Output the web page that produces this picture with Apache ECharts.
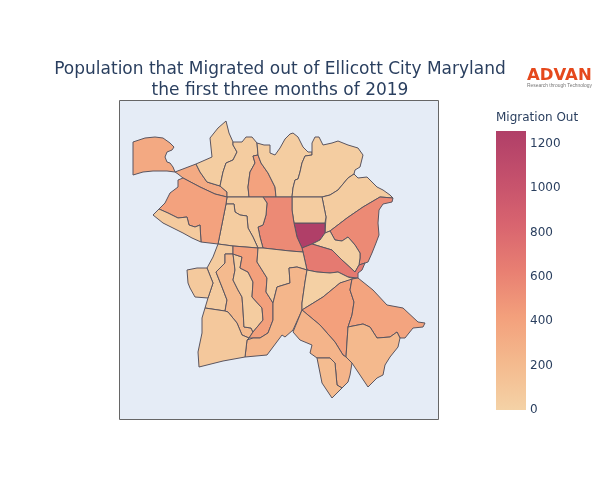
<!DOCTYPE html>
<html>
<head>
<meta charset="utf-8">
<style>
html, body { margin: 0; padding: 0; background: #fff; }
#chart { width: 600px; height: 500px; }
</style>
<script src="https://cdn.jsdelivr.net/npm/echarts@6/dist/echarts.min.js"></script>
</head>
<body>
<div id="chart"></div>
<script>
// neighbourhood outlines, one ring per area
var areaOutlines = [
    [[133,142],[145,138],[155,137],[163,138],[170,143],[174,147],[172,150],[167,152],[165,157],[167,162],[170,163],[173,167],[175,172],[167,171],[153,171],[143,172],[133,175]],
    [[175,172],[196,164],[200,172],[207,182],[220,186],[227,192],[227,197],[215,194],[200,187],[183,178],[178,174]],
    [[226,121],[229,133],[233,142],[233,145],[237,152],[233,160],[226,163],[223,172],[220,186],[207,182],[200,172],[196,164],[212,157],[210,138],[218,128]],
    [[233,142],[242,142],[246,137],[252,137],[257,143],[258,155],[253,156],[255,163],[250,172],[248,187],[249,197],[227,197],[227,192],[220,186],[223,172],[226,163],[233,160],[237,152],[233,145]],
    [[253,156],[258,155],[261,163],[268,173],[275,187],[276,197],[249,197],[248,187],[250,172],[255,163]],
    [[257,143],[264,145],[270,145],[270,153],[275,155],[280,148],[285,139],[290,134],[293,133],[298,137],[303,147],[308,152],[312,152],[312,155],[305,156],[302,163],[300,172],[298,179],[295,180],[293,188],[292,197],[276,197],[275,187],[268,173],[261,163],[258,155]],
    [[312,152],[312,143],[315,137],[319,137],[323,145],[332,143],[338,141],[348,145],[358,148],[363,155],[360,167],[355,170],[354,174],[348,178],[338,190],[330,195],[322,197],[292,197],[293,188],[295,180],[298,179],[300,172],[302,163],[305,156],[312,155]],
    [[354,174],[358,178],[367,177],[372,182],[377,187],[383,190],[390,195],[393,198],[380,197],[363,207],[347,218],[330,231],[325,233],[326,217],[322,197],[330,195],[338,190],[348,178]],
    [[393,198],[392,202],[383,204],[379,210],[378,223],[379,235],[376,243],[372,253],[368,262],[365,263],[359,265],[360,258],[360,253],[355,245],[348,237],[342,241],[335,240],[330,231],[347,218],[363,207],[380,197]],
    [[294,223],[325,223],[325,233],[320,240],[312,244],[302,248],[297,237]],
    [[292,197],[322,197],[326,217],[325,223],[294,223],[292,210]],
    [[312,244],[320,240],[325,233],[330,231],[335,240],[342,241],[348,237],[355,245],[360,253],[360,258],[359,265],[355,272],[342,260],[332,250]],
    [[302,248],[312,244],[332,250],[342,260],[355,272],[359,265],[365,263],[362,270],[358,273],[358,278],[348,277],[338,272],[330,273],[317,272],[307,270],[303,252]],
    [[263,197],[276,197],[292,197],[292,210],[294,223],[297,237],[302,248],[303,252],[290,251],[263,248],[260,237],[258,227],[263,225],[266,215],[267,203]],
    [[227,197],[249,197],[263,197],[267,203],[266,215],[263,225],[258,227],[260,237],[263,248],[258,248],[253,237],[248,228],[247,216],[240,215],[235,212],[234,204],[226,204]],
    [[226,204],[234,204],[235,212],[240,215],[247,216],[248,228],[253,237],[258,248],[233,246],[218,244],[222,224]],
    [[183,178],[200,187],[215,194],[227,197],[226,204],[222,224],[218,244],[201,242],[200,225],[195,227],[189,225],[187,217],[178,218],[168,213],[159,209],[165,203],[170,193],[178,187],[178,180]],
    [[153,215],[159,209],[168,213],[178,218],[187,217],[189,225],[195,227],[200,225],[201,242],[192,238],[183,233],[163,223]],
    [[218,244],[213,257],[207,268],[213,283],[208,298],[205,308],[225,311],[227,300],[222,287],[216,272],[225,263],[225,254],[233,254],[233,246]],
    [[216,272],[225,263],[225,254],[233,254],[235,270],[233,280],[238,290],[242,297],[243,310],[244,327],[251,328],[253,332],[249,338],[242,335],[237,323],[228,312],[225,311],[227,300],[222,287]],
    [[233,254],[242,257],[240,268],[248,272],[253,282],[252,297],[262,308],[263,320],[253,332],[251,328],[244,327],[243,310],[242,297],[238,290],[233,280],[235,270]],
    [[233,246],[258,248],[257,262],[267,278],[266,292],[273,303],[273,320],[268,333],[260,338],[253,338],[249,338],[253,332],[263,320],[262,308],[252,297],[253,282],[248,272],[240,268],[242,257],[233,254]],
    [[258,248],[263,248],[290,251],[303,252],[307,270],[297,267],[289,268],[290,283],[277,287],[273,303],[266,292],[267,278],[257,262]],
    [[277,287],[290,283],[289,268],[297,267],[307,270],[305,282],[302,303],[302,310],[293,330],[285,337],[282,335],[267,355],[245,357],[247,340],[253,338],[260,338],[268,333],[273,320],[273,303]],
    [[205,308],[225,311],[228,312],[237,323],[242,335],[249,338],[247,340],[245,357],[223,361],[199,367],[198,352],[202,333],[202,318]],
    [[187,270],[188,283],[190,288],[195,297],[208,298],[213,283],[207,268],[197,268]],
    [[307,270],[317,272],[330,273],[338,272],[348,277],[355,279],[340,283],[323,297],[302,310],[302,303],[305,282]],
    [[302,310],[323,297],[340,283],[352,279],[350,290],[354,302],[352,315],[348,327],[346,357],[343,355],[335,342],[320,325]],
    [[352,279],[358,278],[373,290],[387,305],[403,308],[418,322],[425,323],[423,327],[413,328],[405,338],[400,338],[397,332],[390,337],[377,338],[370,327],[363,324],[348,327],[352,315],[354,302],[350,290]],
    [[348,327],[363,324],[370,327],[377,338],[390,337],[397,332],[400,338],[398,347],[390,357],[385,365],[383,375],[377,378],[368,387],[352,363],[346,357]],
    [[302,310],[320,325],[335,342],[343,355],[346,357],[352,363],[350,375],[348,382],[342,388],[337,385],[335,363],[330,358],[317,358],[310,353],[312,345],[300,340],[293,332]],
    [[317,358],[330,358],[335,363],[337,385],[342,388],[348,382],[332,398],[322,383]]
];

// people who moved out, one value per outline above
var migrationOut = [350, 340, 40, 50, 400, 40, 40, 50, 560, 1258, 50, 15, 670, 560, 70, 50, 400, 70, 60, 210, 50, 420, 50, 240, 90, 80, 20, 420, 390, 220, 260, 190];
var colorStops = ['#f4d2a6', '#f4ba8e', '#f3a07c', '#e87f72', '#d8646f', '#c4506c', '#b03f68'];
var colorTicks = [0, 200, 400, 600, 800, 1000, 1200];

var areaNames = areaOutlines.map(function (o, i) { return 'Area ' + (i + 1); });

var features = areaOutlines.map(function (ring, i) {
    var closed = ring.concat([ring[0]]).map(function (p) { return [p[0], -p[1]]; });
    return {
        type: 'Feature',
        properties: { name: areaNames[i] },
        geometry: { type: 'Polygon', coordinates: [closed] }
    };
});
echarts.registerMap('ellicott', { type: 'FeatureCollection', features: features });

// the bar is a plain gradient, the visualMap's own one has rounded corners
var barGradient = colorStops.map(function (c, i) {
    return { offset: i / (colorStops.length - 1), color: c };
});

var chart = echarts.init(document.getElementById('chart'));
chart.setOption({
    animation: false,
    backgroundColor: '#fff',
    textStyle: { fontFamily: 'DejaVu Sans' },
    title: {
        text: 'Population that Migrated out of Ellicott City Maryland\nthe first three months of 2019',
        left: 275,
        top: 54,
        textAlign: 'center',
        textStyle: { color: '#2a3f5f', fontSize: 17, fontWeight: 'normal', lineHeight: 21, fontFamily: 'DejaVu Sans' }
    },
    // only here to carry the colour bar tick labels
    grid: { left: 496, width: 30, top: 131, height: 279 },
    xAxis: { type: 'value', show: false },
    yAxis: {
        type: 'value',
        min: 0,
        max: 1258,
        interval: colorTicks[1],
        position: 'right',
        axisLine: { show: false },
        axisTick: { show: false },
        splitLine: { show: false },
        axisLabel: {
            showMaxLabel: false,
            margin: 4,
            color: '#2a3f5f',
            fontSize: 12,
            fontFamily: 'DejaVu Sans',
            formatter: function (v) { return String(v); }
        }
    },
    visualMap: {
        type: 'continuous',
        show: false,
        min: 0,
        max: 1258,
        seriesIndex: 0,
        inRange: { color: colorStops }
    },
    series: [{
        type: 'map',
        map: 'ellicott',
        silent: true,
        aspectScale: 1,
        boundingCoords: [[119.5, -100.5], [438.5, -419.5]],
        layoutCenter: [279, 260],
        layoutSize: 319,
        itemStyle: { borderColor: '#5a5560', borderWidth: 1 },
        label: { show: false },
        data: areaNames.map(function (n, i) { return { name: n, value: migrationOut[i] }; })
    }],
    graphic: [
        { type: 'rect', z: -1, silent: true, shape: { x: 119.5, y: 100.5, width: 319, height: 319 }, style: { fill: '#e5ecf6', stroke: '#666', lineWidth: 1 } },
        {
            type: 'rect',
            silent: true,
            shape: { x: 496, y: 131, width: 30, height: 279 },
            style: { fill: new echarts.graphic.LinearGradient(0, 1, 0, 0, barGradient) }
        },
        { type: 'text', silent: true, style: { x: 496, y: 112, text: 'Migration Out', fill: '#2a3f5f', font: '12px "DejaVu Sans"' } },
        { type: 'text', silent: true, style: { x: 527, y: 67, text: 'ADVAN', fill: '#e5481c', font: 'bold 16.5px "DejaVu Sans"' } },
        { type: 'text', silent: true, style: { x: 527, y: 83, text: 'Research through Technology', fill: '#777', font: '4.9px "Liberation Sans"' } }
    ]
});
</script>
</body>
</html>
